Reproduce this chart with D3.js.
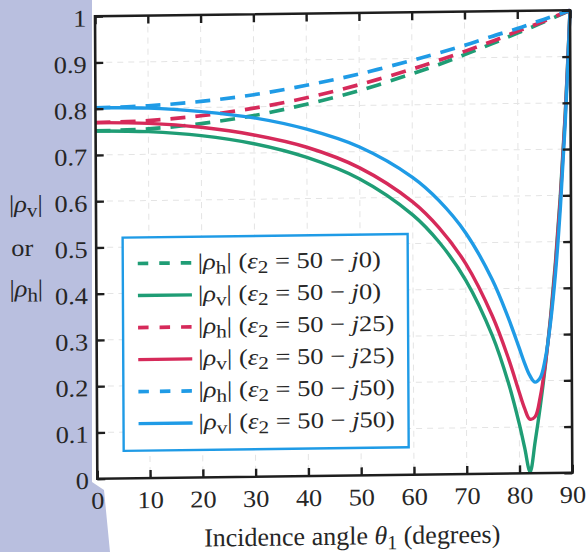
<!DOCTYPE html>
<html>
<head>
<meta charset="utf-8">
<script src="https://cdn.jsdelivr.net/npm/d3@7/dist/d3.min.js"></script>
<style>
  body { margin: 0; background: #fff; }
  text { font-family: "Liberation Serif", "Times New Roman", serif; fill: #262626; }
</style>
</head>
<body>
<div id="chart"></div>
<script>
// Incidence angles (degrees) and |rho_h|
var hAngles = [0, 10, 20, 30, 40, 50, 60, 65, 70, 75, 80, 85, 90];
var rhoH0  = [0.752, 0.755, 0.765, 0.781, 0.804, 0.832, 0.867, 0.886, 0.907, 0.929, 0.952, 0.975, 1];
var rhoH25 = [0.770, 0.773, 0.782, 0.797, 0.818, 0.845, 0.877, 0.895, 0.914, 0.934, 0.956, 0.977, 1];
var rhoH50 = [0.802, 0.805, 0.813, 0.826, 0.845, 0.868, 0.896, 0.911, 0.927, 0.945, 0.962, 0.981, 1];

// Incidence angles and |rho_v| (denser near the dip)
var vAngles = [0, 10, 20, 30, 40, 50, 60, 65, 70, 75, 78, 80, 81, 82, 83, 84, 85, 86, 87, 88, 89, 90];
var rhoV0  = [0.752, 0.749, 0.739, 0.720, 0.689, 0.641, 0.562, 0.502, 0.419, 0.298, 0.195, 0.107, 0.055, 0.003, 0.069, 0.145, 0.233, 0.335, 0.456, 0.601, 0.778, 1];
var rhoV25 = [0.770, 0.767, 0.757, 0.739, 0.711, 0.665, 0.590, 0.533, 0.455, 0.341, 0.249, 0.176, 0.141, 0.117, 0.122, 0.165, 0.237, 0.331, 0.449, 0.593, 0.773, 1];
var rhoV50 = [0.802, 0.800, 0.791, 0.776, 0.750, 0.710, 0.643, 0.592, 0.522, 0.420, 0.337, 0.273, 0.240, 0.212, 0.197, 0.206, 0.248, 0.324, 0.432, 0.576, 0.760, 1];

// Tick labels
var xTicks = [0, 10, 20, 30, 40, 50, 60, 70, 80, 90];
var yTicks = [0, 0.1, 0.2, 0.3, 0.4, 0.5, 0.6, 0.7, 0.8, 0.9, 1];
var yTickLabels = ["0", "0.1", "0.2", "0.3", "0.4", "0.5", "0.6", "0.7", "0.8", "0.9", "1"];

// Legend entries: which rho and which imaginary part of eps2
var legendRho = ["h", "v", "h", "v", "h", "v"];
var legendImag = ["0", "0", "25", "25", "50", "50"];

var green = "#1f9d75", red = "#d62a5a", blue = "#1f9be6";

var series = [
  { angles: hAngles, values: rhoH0,  color: green, dashed: true },
  { angles: vAngles, values: rhoV0,  color: green, dashed: false },
  { angles: hAngles, values: rhoH25, color: red,   dashed: true },
  { angles: vAngles, values: rhoV25, color: red,   dashed: false },
  { angles: hAngles, values: rhoH50, color: blue,  dashed: true },
  { angles: vAngles, values: rhoV50, color: blue,  dashed: false }
];

var svgWidth = 587;
var svgHeight = 552;

var chartMargin = { top: 17, right: 16, bottom: 73, left: 96 };
var chartWidth = svgWidth - chartMargin.left - chartMargin.right;
var chartHeight = svgHeight - chartMargin.top - chartMargin.bottom;

// the book's type is a little wider than Liberation Serif
var stretch = 1.1;

var svg = d3.select("#chart")
  .append("svg")
  .attr("width", svgWidth)
  .attr("height", svgHeight)
  .style("display", "block");

svg.append("rect").attr("width", svgWidth).attr("height", svgHeight).attr("fill", "#fff");

// bluish page edge of the scan on the left
svg.append("path")
  .attr("d", "M0,0 H92 V482 L104,490 L110,552 H0 Z")
  .attr("fill", "#b9bfdf");

// the scanned page sits slightly tilted
var root = svg.append("g")
  .attr("transform", "matrix(1,-0.0126,0.005,1.001,-1.07,0.45)");

var chartGroup = root.append("g")
  .attr("transform", `translate(${chartMargin.left}, ${chartMargin.top})`);

var xScale = d3.scaleLinear().domain([0, 90]).range([0, chartWidth]);
var yScale = d3.scaleLinear().domain([0, 1]).range([chartHeight, 0]);

chartGroup.append("rect")
  .attr("width", chartWidth)
  .attr("height", chartHeight)
  .attr("fill", "#fff");

// faint grid
chartGroup.append("g").selectAll("line")
  .data(xTicks.slice(1, -1))
  .enter().append("line")
  .attr("x1", d => xScale(d)).attr("x2", d => xScale(d))
  .attr("y1", 0).attr("y2", chartHeight)
  .attr("stroke", "#e4e4e4").attr("stroke-width", 1).attr("stroke-dasharray", "6,5");

chartGroup.append("g").selectAll("line")
  .data(yTicks.slice(1, -1))
  .enter().append("line")
  .attr("x1", 0).attr("x2", chartWidth)
  .attr("y1", d => yScale(d)).attr("y2", d => yScale(d))
  .attr("stroke", "#e4e4e4").attr("stroke-width", 1).attr("stroke-dasharray", "6,5");

// curves
var line = d3.line()
  .x(d => xScale(d[0]))
  .y(d => yScale(d[1]))
  .curve(d3.curveCatmullRom.alpha(0.5));

series.forEach(function(s) {
  var pts = s.angles.map((a, i) => [a, s.values[i]]);
  chartGroup.append("path")
    .datum(pts)
    .attr("d", line)
    .attr("fill", "none")
    .attr("stroke", s.color)
    .attr("stroke-width", s.dashed ? 3.7 : 3.4)
    .attr("stroke-dasharray", s.dashed ? "15,10" : null);
});

// axes with inward ticks on all four sides
var bottomAxis = d3.axisBottom(xScale).tickValues(xTicks).tickSizeInner(-8).tickSizeOuter(0).tickPadding(13);
var leftAxis = d3.axisLeft(yScale).tickValues(yTicks).tickSizeInner(-8).tickSizeOuter(0).tickPadding(8.5)
  .tickFormat((d, i) => yTickLabels[i]);
var topAxis = d3.axisTop(xScale).tickValues(xTicks).tickSizeInner(-8).tickSizeOuter(0).tickFormat("");
var rightAxis = d3.axisRight(yScale).tickValues(yTicks).tickSizeInner(-8).tickSizeOuter(0).tickFormat("");

var xAxisG = chartGroup.append("g").attr("class", "axis").attr("transform", `translate(0, ${chartHeight})`).call(bottomAxis);
var yAxisG = chartGroup.append("g").attr("class", "axis").call(leftAxis);
chartGroup.append("g").attr("class", "axis").call(topAxis);
chartGroup.append("g").attr("class", "axis").attr("transform", `translate(${chartWidth}, 0)`).call(rightAxis);

chartGroup.selectAll(".axis .domain").remove();
chartGroup.selectAll(".axis line").attr("stroke", "#1e1e1e").attr("stroke-width", 2.4);
chartGroup.selectAll(".axis text")
  .attr("font-family", "Liberation Serif")
  .attr("font-size", 24)
  .attr("fill", "#262626")
  .attr("transform", `scale(${stretch},1)`);
yAxisG.selectAll("text").attr("x", -8.5 / stretch).attr("dy", "0.4em");

chartGroup.append("rect")
  .attr("width", chartWidth)
  .attr("height", chartHeight)
  .attr("fill", "none")
  .attr("stroke", "#1e1e1e")
  .attr("stroke-width", 2.6);

// legend
var legend = root.append("g");
legend.append("rect")
  .attr("x", 122.5).attr("y", 238.5)
  .attr("width", 285).attr("height", 213)
  .attr("fill", "#fff")
  .attr("stroke", blue)
  .attr("stroke-width", 2.4);

series.forEach(function(s, i) {
  var rowY = 264.5 + i * 32;
  legend.append("line")
    .attr("x1", 137.5).attr("x2", 191.5)
    .attr("y1", rowY).attr("y2", rowY)
    .attr("stroke", s.color)
    .attr("stroke-width", s.dashed ? 3.7 : 3.4)
    .attr("stroke-dasharray", s.dashed ? "10.5,11" : null);

  var t = legend.append("text")
    .attr("transform", `translate(197.5, ${rowY + 6.5}) scale(1.18,1)`)
    .attr("font-size", 22.5);
  t.append("tspan").text("|");
  t.append("tspan").attr("font-style", "italic").text("\u03c1");
  t.append("tspan").attr("font-size", 18).attr("dy", 4.5).text(legendRho[i]);
  t.append("tspan").attr("dy", -4.5).text("| (");
  t.append("tspan").attr("font-style", "italic").text("\u03b5");
  t.append("tspan").attr("font-size", 18).attr("dy", 4.5).text("2");
  t.append("tspan").attr("dy", -4.5).text(" = 50 \u2212 ");
  t.append("tspan").attr("font-style", "italic").text("j");
  t.append("tspan").text(legendImag[i] + ")");
});

// y axis title: |rho_v| or |rho_h|
function rhoLabel(sub, x, y) {
  var t = root.append("text")
    .attr("transform", `translate(${x}, ${y}) scale(${stretch},1)`)
    .attr("font-size", 24);
  t.append("tspan").text("|");
  t.append("tspan").attr("font-style", "italic").text("\u03c1");
  t.append("tspan").attr("font-size", 19).attr("dy", 5).text(sub);
  t.append("tspan").attr("dy", -5).text("|");
}
rhoLabel("v", 9, 211.5);
root.append("text")
  .attr("transform", `translate(11, 255.5) scale(${stretch},1)`)
  .attr("font-size", 24).text("or");
rhoLabel("h", 9, 296);

// x axis title
var xTitle = root.append("text")
  .attr("x", 202.5).attr("y", 548)
  .attr("font-size", 26);
xTitle.append("tspan").text("Incidence angle ");
xTitle.append("tspan").attr("font-style", "italic").text("\u03b8");
xTitle.append("tspan").attr("font-size", 20).attr("dy", 5).text("1");
xTitle.append("tspan").attr("dy", -5).text(" (degrees)");
</script>
</body>
</html>
